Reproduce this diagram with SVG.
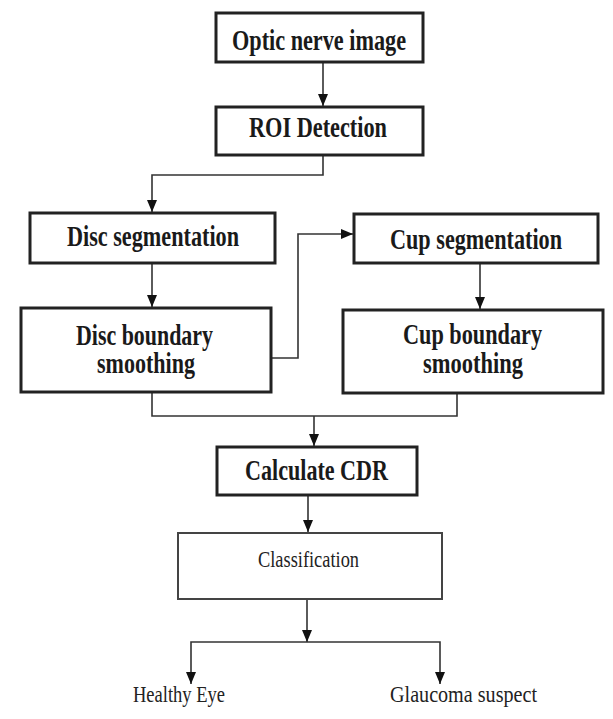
<svg xmlns="http://www.w3.org/2000/svg" width="613" height="719" viewBox="0 0 613 719">
<style>
.box{fill:#fff;stroke:#222;stroke-width:3}
.thin{fill:#fff;stroke:#444;stroke-width:2}
.lbl{font-family:"Liberation Serif","Times New Roman",serif;font-weight:bold;font-size:29px;fill:#1a1a1a;text-anchor:start}
.reg{font-family:"Liberation Serif","Times New Roman",serif;font-size:24px;fill:#222;text-anchor:start}
.con{fill:none;stroke:#333;stroke-width:1.6}
</style>
<defs>
<marker id="ah" markerUnits="userSpaceOnUse" markerWidth="12" markerHeight="10" refX="12" refY="5" orient="auto">
<path d="M0,0 L12,5 L0,10 z" fill="#111"/>
</marker>
</defs>
<rect width="613" height="719" fill="#fff"/>
<g id="connectors">
<path class="con" d="M323,62 V106" marker-end="url(#ah)"/>
<path class="con" d="M323,155 V175 H152 V212" marker-end="url(#ah)"/>
<path class="con" d="M152,263 V307" marker-end="url(#ah)"/>
<path class="con" d="M271,358 H298 V234 H353" marker-end="url(#ah)"/>
<path class="con" d="M480,263 V309" marker-end="url(#ah)"/>
<path class="con" d="M152,392 V416 H457 V393"/>
<path class="con" d="M314,416 V446" marker-end="url(#ah)"/>
<path class="con" d="M308,495 V532" marker-end="url(#ah)"/>
<path class="con" d="M307,599 V642" marker-end="url(#ah)"/>
<path class="con" d="M307,642 H191 V684" marker-end="url(#ah)"/>
<path class="con" d="M307,642 H440 V684" marker-end="url(#ah)"/>
</g>
<g id="optic">
<rect class="box" x="216" y="13" width="207" height="49"/>
<text class="lbl" x="232" y="50" textLength="174" lengthAdjust="spacingAndGlyphs">Optic nerve image</text>
</g>
<g id="roi">
<rect class="box" x="216" y="107" width="207" height="48"/>
<text class="lbl" x="249" y="137" textLength="138" lengthAdjust="spacingAndGlyphs">ROI Detection</text>
</g>
<g id="discseg">
<rect class="box" x="30" y="213" width="245" height="50"/>
<text class="lbl" x="67" y="246" textLength="172" lengthAdjust="spacingAndGlyphs">Disc segmentation</text>
</g>
<g id="cupseg">
<rect class="box" x="354" y="214" width="244" height="49"/>
<text class="lbl" x="390" y="249" textLength="172" lengthAdjust="spacingAndGlyphs">Cup segmentation</text>
</g>
<g id="discbound">
<rect class="box" x="21" y="308" width="250" height="84"/>
<text class="lbl" x="76" y="345" textLength="137" lengthAdjust="spacingAndGlyphs">Disc boundary</text>
<text class="lbl" x="97" y="373" textLength="98" lengthAdjust="spacingAndGlyphs">smoothing</text>
</g>
<g id="cupbound">
<rect class="box" x="343" y="310" width="260" height="83"/>
<text class="lbl" x="403" y="344" textLength="139" lengthAdjust="spacingAndGlyphs">Cup boundary</text>
<text class="lbl" x="423" y="373" textLength="100" lengthAdjust="spacingAndGlyphs">smoothing</text>
</g>
<g id="cdr">
<rect class="box" x="217" y="447" width="200" height="48"/>
<text class="lbl" x="245" y="480" textLength="143" lengthAdjust="spacingAndGlyphs">Calculate CDR</text>
</g>
<g id="classification">
<rect class="thin" x="178" y="533" width="264" height="66"/>
<text class="reg" x="258" y="567" textLength="101" lengthAdjust="spacingAndGlyphs">Classification</text>
</g>
<g id="healthy">
<text class="reg" x="133" y="702" textLength="92" lengthAdjust="spacingAndGlyphs">Healthy Eye</text>
</g>
<g id="glaucoma">
<text class="reg" x="390" y="702" textLength="147" lengthAdjust="spacingAndGlyphs">Glaucoma suspect</text>
</g>
</svg>
